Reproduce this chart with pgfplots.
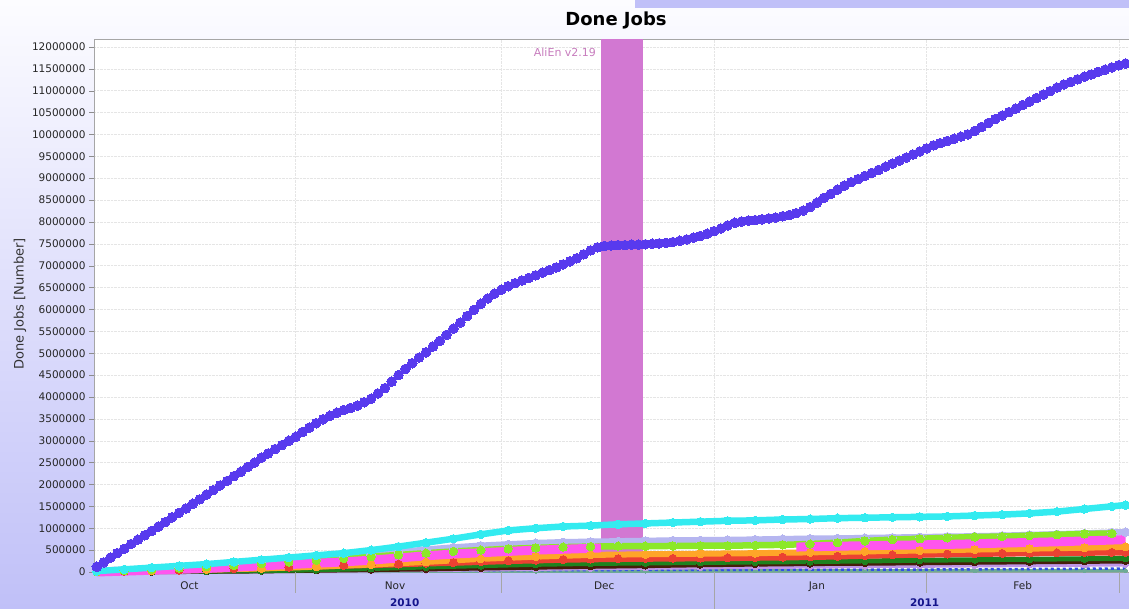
\documentclass[border=0pt]{standalone}
\usepackage{pgfplots}
\pgfplotsset{compat=1.18}
\usepackage{fontspec}
\setmainfont{DejaVu Sans}
\definecolor{mainblue}{RGB}{88,58,238}
\definecolor{cyanc}{RGB}{51,235,240}
\definecolor{lavc}{RGB}{182,182,240}
\definecolor{greenc}{RGB}{140,232,40}
\definecolor{magc}{RGB}{255,85,238}
\definecolor{orangec}{RGB}{255,165,40}
\definecolor{redc}{RGB}{235,65,50}
\definecolor{dgreen}{RGB}{30,130,30}
\definecolor{brownc}{RGB}{70,30,10}
\definecolor{purplec}{RGB}{190,150,230}
\definecolor{bluec}{RGB}{50,80,230}
\definecolor{tealc}{RGB}{110,170,150}
\definecolor{bandc}{RGB}{210,120,210}
\definecolor{alienc}{RGB}{200,125,190}
\definecolor{yearc}{RGB}{20,20,140}
\definecolor{bgbot}{RGB}{192,192,248}
\definecolor{bgtop}{RGB}{252,252,255}
\pgfplotsset{
  bead/.style n args={3}{color=#1, line width=#2, mark=*, mark size=#3, mark options={draw=none, fill=#1, line width=0pt, solid}},
}
\begin{document}
\begin{tikzpicture}[x=1pt,y=1pt]
\useasboundingbox (0,0) rectangle (1129,609);
\shade[bottom color=bgbot, top color=bgtop] (0,0) rectangle (1129,609);
\fill[bgbot] (635,601) rectangle (1129,609);
\node[font=\fontsize{18}{20}\selectfont\bfseries] at (616,589) {Done Jobs};
\node[rotate=90, font=\fontsize{13}{15}\selectfont, text=black!80] at (20,305) {Done Jobs [Number]};
\begin{axis}[
  at={(94pt,37pt)}, anchor=south west,
  scale only axis, width=1035pt, height=533pt,
  xmin=1.6, xmax=152.5, ymin=0, ymax=12180000,
  clip=false,
  axis background/.style={fill=white},
  axis line style={draw=black!35},
  ytick={0,500000,...,12000000},
  scaled y ticks=false,
  /pgf/number format/assume math mode=true,
  yticklabel style={/pgf/number format/fixed, /pgf/number format/precision=0, /pgf/number format/1000 sep={}, font=\fontsize{10.5}{12}\selectfont, text=black!85},
  xtick={31,61,92,123,151},
  xticklabels={},
  tick align=outside,
  major tick length=5pt,
  ytick style={draw=black!45},
  xtick style={draw=none},
  xmajorgrids, ymajorgrids,
  major grid style={densely dotted, draw=black!10},
  extra x ticks={15.5,45.5,76,107,137},
  extra x tick labels={Oct,Nov,Dec,Jan,Feb},
  extra x tick style={grid=none, xticklabel style={font=\fontsize{10.5}{12}\selectfont, yshift=-1pt, text=black!85}},
]
% AliEn band
\fill[bandc] (axis cs:75.5,0) rectangle (axis cs:81.6,12180000);
\node[anchor=east, text=alienc, font=\fontsize{11}{13}\selectfont] at (axis cs:75.3,11880000) {AliEn v2.19};
% teal bottom
\addplot[bead={tealc}{3.5pt}{2pt}] coordinates {
(2,5000)(18,10000)(34,15000)(50,18000)(66,20000)(82,22000)(98,25000)(114,27000)(130,30000)(146,32000)(152,33000)};
% blue dashed
\addplot[bluec, line width=2.5pt, dashed, mark=none] coordinates {
(2,10000)(31,30000)(61,40000)(92,50000)(122,55000)(152,80000)};
% light purple
\addplot[bead={purplec}{4pt}{3pt}] coordinates {
(2,0)(10,5000)(18,10000)(26,15000)(34,25000)(42,35000)(50,45000)(58,55000)(66,70000)(74,85000)(82,95000)(90,105000)(98,115000)(106,122000)(114,130000)(122,140000)(130,150000)(138,158000)(146,165000)(152,170000)};
% brown
\addplot[bead={brownc}{5pt}{3.5pt}] coordinates {
(2,0)(10,5000)(18,15000)(26,25000)(34,40000)(42,55000)(50,70000)(58,90000)(66,110000)(74,130000)(82,145000)(90,165000)(98,180000)(106,192000)(114,200000)(122,210000)(130,222000)(138,233000)(146,243000)(152,250000)};
% dark green
\addplot[bead={dgreen}{5pt}{3.5pt}] coordinates {
(2,0)(10,10000)(18,20000)(26,30000)(34,50000)(42,80000)(50,115000)(58,145000)(66,175000)(74,195000)(82,205000)(90,218000)(98,228000)(106,238000)(114,252000)(122,268000)(130,280000)(138,292000)(146,302000)(152,310000)};
% red
\addplot[bead={redc}{6.5pt}{4pt}] coordinates {
(2,0)(6,15000)(10,30000)(14,45000)(18,60000)(22,75000)(26,90000)(30,110000)(34,130000)(38,150000)(42,165000)(46,180000)(50,200000)(54,215000)(58,235000)(62,255000)(66,270000)(70,285000)(74,295000)(78,302000)(82,307000)(86,312000)(90,317000)(94,322000)(98,330000)(102,338000)(106,346000)(110,360000)(114,375000)(118,390000)(122,400000)(126,410000)(130,418000)(134,425000)(138,432000)(142,438000)(146,444000)(150,448000)(152,450000)};
% orange
\addplot[bead={orangec}{6pt}{4pt}] coordinates {
(2,0)(10,30000)(18,55000)(26,80000)(34,120000)(42,170000)(50,230000)(58,300000)(66,350000)(74,390000)(82,405000)(90,418000)(98,430000)(106,448000)(114,470000)(122,490000)(130,512000)(138,533000)(146,555000)(152,575000)};
% lavender
\addplot[bead={lavc}{6.5pt}{4.2pt}] coordinates {
(2,10000)(6,40000)(10,70000)(14,100000)(18,130000)(22,170000)(26,210000)(30,250000)(34,290000)(38,340000)(42,390000)(46,450000)(50,510000)(54,560000)(58,600000)(62,630000)(66,660000)(70,680000)(74,690000)(78,700000)(82,710000)(86,720000)(90,725000)(94,730000)(98,740000)(102,750000)(106,760000)(110,765000)(114,775000)(118,785000)(122,795000)(126,805000)(130,815000)(134,828000)(138,845000)(142,862000)(146,880000)(150,900000)(152,910000)};
% green
\addplot[bead={greenc}{6.5pt}{4.2pt}] coordinates {
(2,10000)(6,30000)(10,60000)(14,90000)(18,120000)(22,150000)(26,190000)(30,230000)(34,270000)(38,310000)(42,350000)(46,390000)(50,430000)(54,470000)(58,500000)(62,530000)(66,550000)(70,570000)(74,580000)(78,590000)(82,590000)(86,595000)(90,600000)(94,600000)(98,610000)(102,620000)(106,640000)(110,670000)(114,710000)(118,740000)(122,760000)(126,780000)(130,800000)(134,810000)(138,830000)(142,850000)(146,870000)(150,880000)};
% magenta, two segments
\addplot[magc, line width=9pt, mark=none] coordinates {
(2,0)(6,20000)(10,40000)(14,60000)(18,80000)(22,110000)(26,140000)(30,170000)(34,200000)(38,230000)(42,270000)(46,320000)(50,370000)(54,410000)(58,440000)(62,470000)(66,500000)(70,520000)(74,540000)(75.5,550000)};
\addplot[magc, line width=9pt, mark=none] coordinates {
(104,570000)(110,590000)(118,610000)(126,630000)(134,660000)(142,690000)(150,730000)(152,740000)};
% cyan
\addplot[bead={cyanc}{6.5pt}{4.2pt}] coordinates {
(2,20000)(6,60000)(10,100000)(14,140000)(18,180000)(22,230000)(26,280000)(30,330000)(34,380000)(38,430000)(42,500000)(46,580000)(50,670000)(54,760000)(58,860000)(62,950000)(66,1000000)(70,1040000)(74,1060000)(78,1090000)(82,1110000)(86,1130000)(90,1150000)(94,1170000)(98,1180000)(102,1200000)(106,1210000)(110,1230000)(114,1240000)(118,1250000)(122,1260000)(126,1270000)(130,1290000)(134,1310000)(138,1340000)(142,1380000)(146,1440000)(150,1500000)(152,1530000)};
% main series
\addplot[bead={mainblue}{4pt}{4.8pt}] coordinates {
(2,120000)(3,220000)(4,330000)(5,430000)(6,530000)(7,640000)(8,740000)(9,840000)(10,940000)(11,1040000)(12,1140000)(13,1250000)(14,1350000)(15,1450000)(16,1560000)(17,1660000)(18,1770000)(19,1870000)(20,1980000)(21,2080000)(22,2190000)(23,2290000)(24,2400000)(25,2500000)(26,2610000)(27,2710000)(28,2810000)(29,2900000)(30,3000000)(31,3090000)(32,3200000)(33,3300000)(34,3400000)(35,3490000)(36,3570000)(37,3640000)(38,3700000)(39,3750000)(40,3800000)(41,3880000)(42,3960000)(43,4080000)(44,4200000)(45,4350000)(46,4500000)(47,4640000)(48,4770000)(49,4900000)(50,5020000)(51,5150000)(52,5280000)(53,5420000)(54,5560000)(55,5700000)(56,5850000)(57,5990000)(58,6130000)(59,6250000)(60,6360000)(61,6450000)(62,6530000)(63,6600000)(64,6660000)(65,6720000)(66,6780000)(67,6840000)(68,6900000)(69,6960000)(70,7030000)(71,7100000)(72,7170000)(73,7260000)(74,7350000)(75,7420000)(76,7450000)(77,7460000)(78,7470000)(79,7470000)(80,7480000)(81,7480000)(82,7490000)(83,7500000)(84,7510000)(85,7520000)(86,7540000)(87,7570000)(88,7600000)(89,7640000)(90,7680000)(91,7730000)(92,7790000)(93,7850000)(94,7920000)(95,7980000)(96,8010000)(97,8030000)(98,8040000)(99,8060000)(100,8080000)(101,8100000)(102,8130000)(103,8160000)(104,8200000)(105,8260000)(106,8340000)(107,8440000)(108,8550000)(109,8640000)(110,8740000)(111,8830000)(112,8910000)(113,8980000)(114,9050000)(115,9120000)(116,9190000)(117,9260000)(118,9330000)(119,9400000)(120,9470000)(121,9540000)(122,9610000)(123,9680000)(124,9750000)(125,9800000)(126,9850000)(127,9900000)(128,9950000)(129,10000000)(130,10080000)(131,10170000)(132,10260000)(133,10350000)(134,10430000)(135,10510000)(136,10590000)(137,10670000)(138,10750000)(139,10830000)(140,10910000)(141,10990000)(142,11070000)(143,11140000)(144,11200000)(145,11260000)(146,11320000)(147,11370000)(148,11430000)(149,11480000)(150,11530000)(151,11580000)(152,11620000)};
% month boundary ticks below the axis
\draw[black!35] (axis cs:31,0) -- ([yshift=-21pt]axis cs:31,0);
\draw[black!35] (axis cs:61,0) -- ([yshift=-21pt]axis cs:61,0);
\draw[black!35] (axis cs:92,0) -- ([yshift=-37pt]axis cs:92,0);
\draw[black!35] (axis cs:123,0) -- ([yshift=-21pt]axis cs:123,0);
\draw[black!35] (axis cs:151,0) -- ([yshift=-21pt]axis cs:151,0);
\node[font=\fontsize{10.5}{12}\selectfont\bfseries, text=yearc] at (axis cs:46.9,0) [yshift=-31pt] {2010};
\node[font=\fontsize{10.5}{12}\selectfont\bfseries, text=yearc] at (axis cs:122.7,0) [yshift=-31pt] {2011};
\end{axis}
\end{tikzpicture}
\end{document}
